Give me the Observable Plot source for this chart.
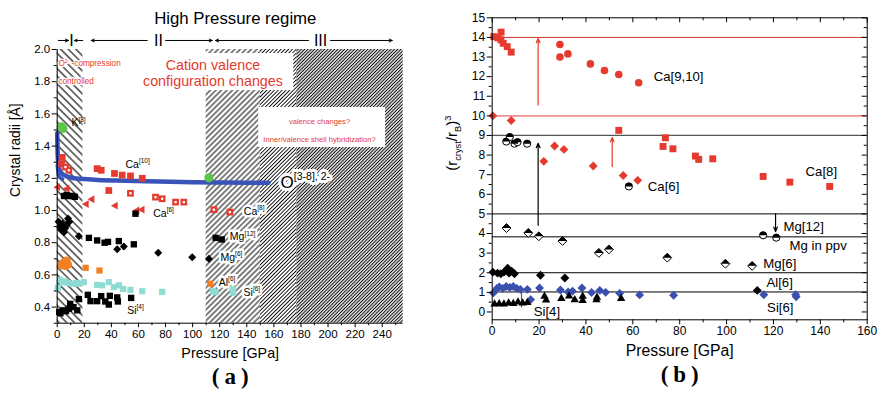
<!DOCTYPE html>
<html><head><meta charset="utf-8">
<script src="https://cdn.jsdelivr.net/npm/d3@7"></script>
<script src="https://cdn.jsdelivr.net/npm/@observablehq/plot@0.6"></script>
<style>
body{margin:0;background:#fff;}
#wrap{position:relative;width:877px;height:396px;overflow:hidden;background:#fff;}
#left{position:absolute;left:0;top:0;}
#right{position:absolute;left:440px;top:0;}
</style></head><body>
<svg width="0" height="0" style="position:absolute">
<defs>
<pattern id="hBack" patternUnits="userSpaceOnUse" width="5.4" height="5.4" patternTransform="rotate(-45)"><line x1="2.7" y1="0" x2="2.7" y2="5.4" stroke="#000" stroke-width="1.1"/></pattern>
<pattern id="hCoarse" patternUnits="userSpaceOnUse" width="3.9" height="3.9" patternTransform="rotate(45)"><line x1="1.95" y1="0" x2="1.95" y2="3.9" stroke="#000" stroke-width="1"/></pattern>
<pattern id="hMed" patternUnits="userSpaceOnUse" width="2.7" height="2.7" patternTransform="rotate(45)"><line x1="1.35" y1="0" x2="1.35" y2="2.7" stroke="#000" stroke-width="0.9"/></pattern>
<pattern id="hFine" patternUnits="userSpaceOnUse" width="2.35" height="2.35" patternTransform="rotate(45)"><line x1="1.175" y1="0" x2="1.175" y2="2.35" stroke="#000" stroke-width="1.05"/></pattern>
</defs></svg>
<div id="wrap"><div id="left"></div><div id="right"></div></div>
<script>
// ---------------- Panel (a) data ----------------
const regimeStart = [0, 110, 150, 177];
const regimeEnd = [19, 150, 177, 255.5];
const regimeFill = ["url(#hBack)", "url(#hCoarse)", "url(#hMed)", "url(#hFine)"];

const oP = [0, 0.3, 0.7, 1.5, 3, 5, 8, 12, 20, 30, 50, 75, 100, 125, 156];
const oR = [1.48, 1.36, 1.30, 1.26, 1.235, 1.22, 1.21, 1.20, 1.195, 1.19, 1.185, 1.18, 1.176, 1.174, 1.172];
const oLowP = [0, 1, 2, 4];
const oLowR = [1.28, 1.22, 1.205, 1.195];

const kP = [3.0, 4.2, 112];
const kR = [1.52, 1.51, 1.203];

const ca10P = [3.7, 3.2, 29.5, 32.5, 42.3, 48, 54.1, 62.8, 38.1];
const ca10R = [1.33, 1.29, 1.26, 1.25, 1.23, 1.22, 1.215, 1.20, 1.124];
const ca8P = [6.1, 8.6, 54.1, 72.6, 77.5, 87.4, 93.5, 115.7, 127.5];
const ca8R = [1.27, 1.25, 1.107, 1.083, 1.073, 1.052, 1.052, 1.005, 0.99];
const ca6P = [0.5, 7.4, 21.6, 25.8, 43, 59, 62.8];
const ca6R = [1.145, 1.135, 1.04, 1.07, 1.03, 1.0, 1.005];

const mg12P = [5, 7, 9, 11, 13, 57.8, 23.4, 29.5, 35, 37.5, 45.5, 56.6, 117, 121.5];
const mg12R = [1.09, 1.095, 1.09, 1.09, 1.085, 0.98, 0.83, 0.814, 0.80, 0.805, 0.81, 0.79, 0.83, 0.82];
const mg6P = [1, 2, 3, 4, 5, 6, 7, 8, 9, 16, 44.3, 49.2, 74.6, 99.7, 112];
const mg6R = [0.93, 0.90, 0.88, 0.92, 0.865, 0.89, 0.91, 0.95, 0.93, 0.84, 0.76, 0.777, 0.737, 0.71, 0.70];

const al6cP = [3, 5, 7, 8, 6];
const al6cR = [0.66, 0.68, 0.69, 0.665, 0.655];
const al6sP = [21, 31.2, 113];
const al6sR = [0.644, 0.627, 0.545];

const si6P = [0.5, 2, 4, 6, 8, 11, 14, 16, 19.7, 29.5, 33.2, 38.1, 41.8, 45.5, 48.7, 54.1, 62.8, 77.5, 115, 117, 129.5, 130];
const si6R = [0.52, 0.57, 0.555, 0.56, 0.55, 0.545, 0.55, 0.545, 0.555, 0.538, 0.535, 0.555, 0.524, 0.535, 0.513, 0.507, 0.499, 0.495, 0.50, 0.493, 0.51, 0.49];

const si4P = [1.5, 2.4, 4.5, 6.5, 8.6, 9.6, 12, 14.8, 16, 22.6, 24.6, 29.5, 32.5, 35.5, 38.9, 38.1, 44.3, 44.8, 54.6];
const si4R = [0.37, 0.362, 0.38, 0.375, 0.39, 0.42, 0.40, 0.38, 0.45, 0.476, 0.437, 0.437, 0.468, 0.435, 0.47, 0.416, 0.46, 0.435, 0.457];

const aLabText = ["K^{[8]}", "Ca^{[10]}", "Ca^{[6]}", "Ca^{[8]}", "Mg^{[12]}", "Mg^{[6]}", "Al^{[6]}", "Si^{[6]}", "Si^{[4]}"];
const aLabP = [10.5, 50.4, 70.9, 137.8, 127.5, 120.6, 119.3, 137.6, 51.7];
const aLabR = [1.545, 1.286, 0.983, 0.994, 0.838, 0.71, 0.553, 0.493, 0.379];
const aLabHalo = [false, false, false, true, true, true, true, true, false];

const aYTicks = [0.4, 0.6, 0.8, 1.0, 1.2, 1.4, 1.6, 1.8, 2.0];
const aYMinor = [0.3, 0.5, 0.7, 0.9, 1.1, 1.3, 1.5, 1.7, 1.9];
const aXTicks = [0, 20, 40, 60, 80, 100, 120, 140, 160, 180, 200, 220, 240];
const aXMinor = [10, 30, 50, 70, 90, 110, 130, 150, 170, 190, 210, 230, 250];

// white boxes behind the annotations
const boxP1 = [61.5, 148.8];
const boxP2 = [174.7, 242.5];
const boxR1 = [1.745, 1.391];
const boxR2 = [1.975, 1.64];

// regime arrows (above the frame)
const regArrowX1 = [0.9, 18.9, 66.5, 80, 185.6, 201.8];
const regArrowX2 = [8.3, 12.8, 25.1, 114.5, 116.9, 247.4];
const regArrowR = 2.056;
const regLabel = ["I", "II", "III"];
const regLabelP = [10.6, 74.8, 194.5];

// ---------------- Panel (b) data ----------------
const ca910P = [28.9, 28.9, 32.3, 41.9, 47.9, 54.0, 62.5];
const ca910V = [13.64, 13.0, 13.16, 12.65, 12.31, 12.11, 11.69];
const caTopP = [0.7, 2.4, 3.8, 3.7, 4.7, 6.4, 8.1];
const caTopV = [14.04, 13.98, 14.27, 13.88, 13.70, 13.53, 13.25];
const ca8bP = [54.0, 73.9, 72.9, 77.1, 86.7, 88.1, 94.1, 115.6, 127.0, 144.0];
const ca8bV = [9.26, 8.88, 8.44, 8.32, 7.95, 7.78, 7.81, 6.91, 6.62, 6.40];
const redDiaP = [0.3, 8.1, 22.0, 26.6, 30.6, 43.1, 55.9, 62.1];
const redDiaV = [10.0, 9.76, 7.68, 8.46, 8.29, 7.44, 6.96, 6.71];
const halfCircP = [6.0, 7.5, 9.5, 10.8, 14.9, 58.3, 115.6, 121.2];
const halfCircV = [8.69, 8.92, 8.58, 8.66, 8.58, 6.40, 3.91, 3.79];
const halfDiaP = [6.1, 15.4, 19.9, 30.0, 45.5, 49.8, 74.7, 99.5, 110.9];
const halfDiaV = [4.28, 4.03, 3.86, 3.62, 3.01, 3.19, 2.77, 2.46, 2.35];
const blkDiaP = [0.3, 2.3, 3.7, 5.0, 6.6, 7.2, 8.3, 9.5, 20.6, 31.0, 113.1];
const blkDiaV = [2.03, 1.98, 1.95, 2.03, 2.23, 1.98, 2.08, 1.95, 1.87, 1.73, 1.10];
const bluDiaP = [0.5, 2, 3, 4.5, 6, 7.5, 9, 10.5, 12, 15, 16.4, 20.2, 29.1, 32.4, 34.3, 38.3, 42.4, 45.9, 48.4, 54.4, 62.9, 77.4, 115.9, 129.5, 129.7];
const bluDiaV = [0.97, 1.2, 1.28, 1.2, 1.3, 1.25, 1.3, 1.2, 1.15, 1.15, 0.63, 1.22, 1.12, 1.02, 1.06, 1.22, 0.99, 1.1, 1.0, 0.95, 0.87, 0.85, 0.88, 0.88, 0.77];
const triP = [1, 3, 5, 7, 9, 11, 13, 15, 22.3, 23, 29.5, 32.8, 35.2, 38.6, 38.6, 44.5, 44.7, 55];
const triV = [0.4, 0.42, 0.4, 0.45, 0.43, 0.5, 0.45, 0.48, 0.8, 0.6, 0.68, 0.81, 0.62, 0.58, 0.8, 0.62, 0.75, 0.68];

const refLevels = [14, 10, 9, 5, 3.83, 2, 1.02];
const refColors = ["#d9342b", "#f29090", "#555555", "#000000", "#000000", "#000000", "#000000"];
const refWidths = [1, 1.6, 1.3, 1, 1, 1, 1];

const bArrowP = [19.6, 51.2, 19.6, 120.9];
const bArrowV1 = [10.55, 7.42, 4.42, 5.0];
const bArrowV2 = [13.95, 8.9, 8.6, 4.1];
const bArrowColor = ["#e33b2e", "#e33b2e", "#000000", "#000000"];

const bLabText = ["Ca[9,10]", "Ca[6]", "Ca[8]", "Mg[12]", "Mg in ppv", "Mg[6]", "Al[6]", "Si[6]", "Si[4]"];
const bLabP = [68.9, 66.4, 133.7, 124.3, 126.9, 115.7, 117, 117.3, 17.7];
const bLabV = [12.0, 6.37, 7.17, 4.33, 3.40, 2.47, 1.48, 0.20, 0.0];

const bYTicks = d3.range(0, 16, 1);
const bYMinor = d3.range(0.5, 15, 1);
const bXTicks = [0, 20, 40, 60, 80, 100, 120, 140, 160];
const bXMinor = [10, 30, 50, 70, 90, 110, 130, 150];

// ---------------- helpers ----------------
const FONT = '"Liberation Sans", Arial, Helvetica, sans-serif';
const SERIF = '"Liberation Serif", "Times New Roman", serif';
const RED = "#e53a2e";
const BLUE = "#3953b8";
const zip = (P, V) => P.map((p, i) => ({p, v: V[i]}));
const topHalfCircle = {draw(ctx, size) { const r = Math.sqrt(size / Math.PI); ctx.moveTo(r, 0); ctx.arc(0, 0, r, 0, Math.PI, true); ctx.closePath(); }};
const topHalfDiamond = {draw(ctx, size) { const r = Math.sqrt(size) * 0.62625; ctx.moveTo(-r, 0); ctx.lineTo(0, -r); ctx.lineTo(r, 0); ctx.closePath(); }};

function richText(svg) {
  svg.querySelectorAll("text").forEach(t => {
    const s = t.textContent;
    if (!/[\^_]\{/.test(s)) return;
    const fs = parseFloat(getComputedStyle(t).fontSize) || 10;
    const parts = [];
    const re = /([\^_])\{([^}]*)\}/g; let last = 0, m;
    while ((m = re.exec(s))) {
      if (m.index > last) parts.push({t: s.slice(last, m.index), k: 0});
      parts.push({t: m[2], k: m[1] === "^" ? -1 : 1});
      last = re.lastIndex;
    }
    if (last < s.length) parts.push({t: s.slice(last), k: 0});
    t.textContent = "";
    let cur = 0;
    for (const p of parts) {
      const ts = document.createElementNS("http://www.w3.org/2000/svg", "tspan");
      const target = p.k === -1 ? -0.42 * fs : p.k === 1 ? 0.25 * fs : 0;
      ts.setAttribute("dy", (target - cur).toFixed(2));
      cur = target;
      if (p.k) ts.setAttribute("font-size", (0.62 * fs).toFixed(2) + "px");
      ts.textContent = p.t;
      t.appendChild(ts);
    }
  });
}

// ---------------- Panel (a) ----------------
const aW = 440, aH = 396, aML = 56.7, aMR = 37.3, aMT = 49, aMB = 73.3;
const aPW = aW - aML - aMR;
const hatchMarks = regimeStart.map((s, i) =>
  Plot.rect([i], {x1: () => s, x2: () => regimeEnd[i], y1: () => 0.3, y2: () => 2.0, fill: regimeFill[i]}));
const haloIdx = aLabText.map((_, i) => i).filter(i => aLabHalo[i]);
const redNote = ["O^{2-} -compression", "controlled"];
const redNoteR = [1.913, 1.801];

const left = Plot.plot({
  width: aW, height: aH, marginLeft: aML, marginRight: aMR, marginTop: aMT, marginBottom: aMB,
  x: {domain: [0, 255.5]}, y: {domain: [0.3, 2.0]},
  style: {fontFamily: FONT, fontSize: "11.5px", color: "#000", background: "none", overflow: "visible"},
  marks: [
    ...hatchMarks,
    Plot.rect(boxP1.map((_, i) => i), {x1: i => boxP1[i], x2: i => boxP2[i], y1: i => boxR1[i], y2: i => boxR2[i], fill: "#fff"}),
    Plot.line(zip(oP, oR), {x: "p", y: "v", stroke: BLUE, strokeWidth: 4.5, curve: "monotone-x"}),
    Plot.line(zip(oLowP, oLowR), {x: "p", y: "v", stroke: BLUE, strokeWidth: 3.5, curve: "monotone-x"}),
    Plot.dot(zip(kP, kR), {x: "p", y: "v", r: 4.6, fill: "#5ec44c", symbol: "circle"}),
    Plot.dot(zip(ca10P, ca10R), {x: "p", y: "v", r: 3.8, fill: RED, symbol: "square"}),
    Plot.dot(zip(ca8P, ca8R), {x: "p", y: "v", r: 3.8, fill: RED, symbol: "square"}),
    Plot.dot(zip(ca8P, ca8R), {x: "p", y: "v", r: 1.3, fill: "#fff", symbol: "square"}),
    Plot.dot(zip(ca6P, ca6R), {x: "p", y: "v", r: 2.9, fill: RED, symbol: "triangle", rotate: -90}),
    Plot.dot(zip(mg12P, mg12R), {x: "p", y: "v", r: 3.6, fill: "#000", symbol: "square"}),
    Plot.dot(zip(mg6P, mg6R), {x: "p", y: "v", r: 3.6, fill: "#000", symbol: "diamond2"}),
    Plot.dot(zip(al6cP, al6cR), {x: "p", y: "v", r: 4, fill: "#f47f20", symbol: "circle"}),
    Plot.dot(zip(al6sP, al6sR), {x: "p", y: "v", r: 3.5, fill: "#f47f20", symbol: "square"}),
    Plot.dot(zip(si6P, si6R), {x: "p", y: "v", r: 3.5, fill: "#8fdcd5", symbol: "square"}),
    Plot.dot(zip(si4P, si4R), {x: "p", y: "v", r: 3.6, fill: "#000", symbol: "square"}),
    // axes
    Plot.ruleX([0], {stroke: "#000", strokeWidth: 1}),
    Plot.ruleY([0.3], {stroke: "#000", strokeWidth: 1}),
    Plot.axisY(aYTicks, {tickSize: 5, tickPadding: 2, fontSize: 11.5, tickFormat: d3.format(".1f"), label: null}),
    Plot.tickY(aYMinor, {y: d => d, insetLeft: -3, insetRight: aPW, stroke: "#000"}),
    Plot.axisX(aXTicks, {tickSize: 4.5, tickPadding: 2, fontSize: 11.5, label: null}),
    Plot.tickX(aXMinor, {x: d => d, insetTop: aH - aMT - aMB, insetBottom: -2.5, stroke: "#000"}),
    // data labels (white halo underlay, then the text)
    Plot.text(haloIdx, {x: i => aLabP[i], y: i => aLabR[i], text: i => aLabText[i], textAnchor: "start", fontSize: 10.5, fill: "#fff", stroke: "#fff", strokeWidth: 5}),
    Plot.text(aLabText.map((_, i) => i), {x: i => aLabP[i], y: i => aLabR[i], text: i => aLabText[i], textAnchor: "start", fontSize: 10.5, fill: "#000"}),
    Plot.text(["O^{[3-8], 2-}"], {x: () => 164.9, y: () => 1.176, text: d => d, textAnchor: "start", fontSize: 17, fill: "#fff", stroke: "#fff", strokeWidth: 6}),
    Plot.text(["O^{[3-8], 2-}"], {x: () => 164.9, y: () => 1.176, text: d => d, textAnchor: "start", fontSize: 17, fill: "#000"}),
    // annotations
    Plot.text(redNote, {x: () => 0.9, y: (d, i) => redNoteR[i], text: d => d, textAnchor: "start", fontSize: 8.2, fill: "#fff", stroke: "#fff", strokeWidth: 2.5}),
    Plot.text(redNote, {x: () => 0.9, y: (d, i) => redNoteR[i], text: d => d, textAnchor: "start", fontSize: 8.2, fill: RED}),
    Plot.text(["Cation valence", "configuration changes"], {x: () => 115, y: (d, i) => [1.904, 1.80][i], text: d => d, textAnchor: "middle", fontSize: 14.3, fill: RED}),
    Plot.text(["valence changes?", "Inner/valence shell hybridization?"], {x: () => 193.7, y: (d, i) => [1.555, 1.443][i], text: d => d, textAnchor: "middle", fontSize: 7.6, fill: RED}),
    Plot.text(["High Pressure regime"], {x: () => 131.5, y: () => 2.19, text: d => d, textAnchor: "middle", fontSize: 16.8, fill: "#000"}),
    Plot.arrow(regArrowX1.map((_, i) => i), {x1: i => regArrowX1[i], x2: i => regArrowX2[i], y1: () => regArrowR, y2: () => regArrowR, stroke: "#000", strokeWidth: 1, headLength: 5, headAngle: 50}),
    Plot.text(regLabel, {x: (d, i) => regLabelP[i], y: () => regArrowR, text: d => d, textAnchor: "middle", fontSize: 16, fill: "#000"}),
    // axis labels
    Plot.text(["Crystal radii [Å]"], {frameAnchor: "left", text: d => d, rotate: -90, dx: -42, dy: 10.6, fontSize: 13.8, fill: "#000"}),
    Plot.text(["Pressure [GPa]"], {frameAnchor: "bottom", text: d => d, dy: 34.5, fontSize: 14.3, fill: "#000"}),
    Plot.text(["(a)"], {frameAnchor: "bottom", text: d => d, dy: 60.5, dx: 2.5, fontSize: 23, fontWeight: "bold", fontFamily: SERIF, fill: "#000"})
  ]
});
document.getElementById("left").appendChild(left);
richText(left);

// ---------------- Panel (b) ----------------
const bW = 437, bH = 396, bML = 51.7, bMR = 10.3, bMT = 17.3, bMB = 76.7;
const bPW = bW - bML - bMR, bPH = bH - bMT - bMB;
const right = Plot.plot({
  width: bW, height: bH, marginLeft: bML, marginRight: bMR, marginTop: bMT, marginBottom: bMB,
  x: {domain: [0, 160]}, y: {domain: [-0.4, 15]},
  style: {fontFamily: FONT, fontSize: "12px", color: "#000", background: "none", overflow: "visible"},
  marks: [
    Plot.ruleY(refLevels, {y: d => d, stroke: (d, i) => refColors[i], strokeWidth: (d, i) => refWidths[i]}),
    Plot.ruleX([12.5], {y1: () => 0.2, y2: () => 1.0, stroke: BLUE, strokeWidth: 1.2}),
    Plot.arrow(bArrowP.map((_, i) => i), {x1: i => bArrowP[i], x2: i => bArrowP[i], y1: i => bArrowV1[i], y2: i => bArrowV2[i], stroke: i => bArrowColor[i], strokeWidth: 1.2, headLength: 6, headAngle: 45}),
    Plot.dot(zip(ca910P, ca910V), {x: "p", y: "v", r: 3.8, fill: RED, symbol: "circle"}),
    Plot.dot(zip(caTopP, caTopV), {x: "p", y: "v", r: 3.9, fill: RED, symbol: "square"}),
    Plot.dot(zip(ca8bP, ca8bV), {x: "p", y: "v", r: 3.9, fill: RED, symbol: "square"}),
    Plot.dot(zip(redDiaP, redDiaV), {x: "p", y: "v", r: 4, fill: RED, symbol: "diamond2"}),
    Plot.dot(zip(halfCircP, halfCircV), {x: "p", y: "v", r: 3.6, fill: "#fff", stroke: "#000", strokeWidth: 1, symbol: "circle"}),
    Plot.dot(zip(halfCircP, halfCircV), {x: "p", y: "v", r: 3.6, fill: "#000", symbol: topHalfCircle}),
    Plot.dot(zip(halfDiaP, halfDiaV), {x: "p", y: "v", r: 4, fill: "#fff", stroke: "#000", strokeWidth: 1, symbol: "diamond2"}),
    Plot.dot(zip(halfDiaP, halfDiaV), {x: "p", y: "v", r: 4, fill: "#000", symbol: topHalfDiamond}),
    Plot.dot(zip(blkDiaP, blkDiaV), {x: "p", y: "v", r: 4, fill: "#000", symbol: "diamond2"}),
    Plot.dot(zip(bluDiaP, bluDiaV), {x: "p", y: "v", r: 4, fill: "#3b50ae", symbol: "diamond2"}),
    Plot.dot(zip(triP, triV), {x: "p", y: "v", r: 3.1, fill: "#000", symbol: "triangle"}),
    Plot.frame({stroke: "#000", strokeWidth: 1}),
    Plot.axisY(bYTicks, {tickSize: 5, tickPadding: 2, fontSize: 12, label: null}),
    Plot.tickY(bYMinor, {y: d => d, insetLeft: -3, insetRight: bPW, stroke: "#000"}),
    Plot.tickY(bYTicks, {y: d => d, insetLeft: bPW - 5, stroke: "#000"}),
    Plot.tickY(bYMinor, {y: d => d, insetLeft: bPW - 3, stroke: "#000"}),
    Plot.axisX(bXTicks, {tickSize: 5, tickPadding: 2, fontSize: 12, label: null}),
    Plot.tickX(bXMinor, {x: d => d, insetTop: bPH, insetBottom: -3, stroke: "#000"}),
    Plot.tickX(bXTicks, {x: d => d, insetBottom: bPH - 5, stroke: "#000"}),
    Plot.tickX(bXMinor, {x: d => d, insetBottom: bPH - 3, stroke: "#000"}),
    Plot.text(bLabText.map((_, i) => i), {x: i => bLabP[i], y: i => bLabV[i], text: i => bLabText[i], textAnchor: "start", fontSize: 13.2, fill: "#000"}),
    Plot.text(["(r_{cryst}/r_{B})^{3}"], {frameAnchor: "left", text: d => d, rotate: -90, dx: -40, dy: 2, fontSize: 15, fill: "#000"}),
    Plot.text(["Pressure [GPa]"], {frameAnchor: "bottom", text: d => d, dy: 36, fontSize: 15.8, fill: "#000"}),
    Plot.text(["(b)"], {frameAnchor: "bottom", text: d => d, dy: 62.5, dx: 2.5, fontSize: 23, fontWeight: "bold", fontFamily: SERIF, fill: "#000"})
  ]
});
document.getElementById("right").appendChild(right);
richText(right);
// widen the panel letters like the reference
document.querySelectorAll("text").forEach(t => { if (t.textContent === "(a)" || t.textContent === "(b)") t.setAttribute("letter-spacing", "5"); });
</script>
</body></html>
